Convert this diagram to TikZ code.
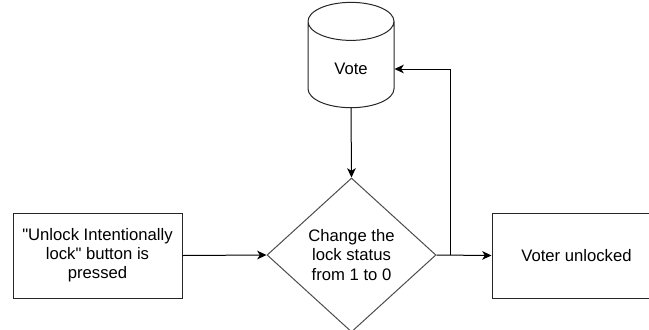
\documentclass[tikz,border=0pt]{standalone}
\usepackage{fontspec}
\setmainfont{Liberation Sans}[Ligatures=TeXOff]
\usetikzlibrary{shapes.geometric,arrows.meta}
\begin{document}
\begin{tikzpicture}[x=0.75pt,y=-0.75pt,
    font=\fontsize{12.5pt}{14.3pt}\selectfont,
    box/.style={draw=black!85,line width=0.75pt,rectangle,
      minimum width=126.75pt,minimum height=63.75pt,align=center},
    test/.style={draw=black!70,line width=0.75pt,diamond,inner sep=0pt,
      minimum width=126.75pt,minimum height=115.5pt,align=center},
    store/.style={draw=black!85,line width=0.75pt,cylinder,
      shape border rotate=90,aspect=0.9,
      minimum width=64.5pt,minimum height=79pt},
    flow/.style={line width=0.75pt,-{Stealth[length=7pt,width=6.5pt,inset=2pt]}}]
  \useasboundingbox (0,0) rectangle (649,329);
  \clip (0,0) rectangle (649,329);
  \node[box] (press) at (97.5,255.5)
    {"Unlock Intentionally\\lock" button is\\pressed};
  \node[test] (change) at (351.5,255)
    {Change the\\lock status\\from 1 to 0};
  \node[box] (unlocked) at (576.5,255.5) {Voter unlocked};
  \node[store] (vote) at (351,69) {Vote};
  \coordinate (fork) at (450,255);
  \draw[flow] (press.east) -- (change.west);
  \draw[flow] (vote.south) -- (change.north);
  \draw[flow] (change.east) -- (unlocked.west);
  \draw[flow] (fork) |- (vote.east);
\end{tikzpicture}
\end{document}
